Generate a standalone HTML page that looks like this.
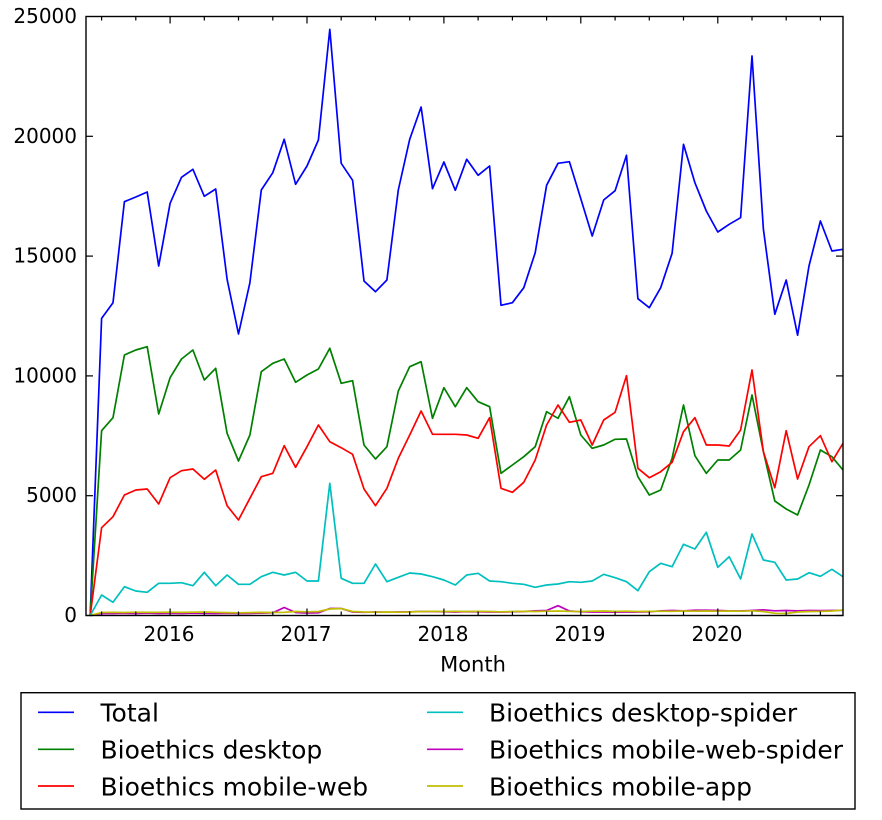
<!DOCTYPE html>
<html>
<head>
<meta charset="utf-8">
<style>
html,body{margin:0;padding:0;background:#fff;}
svg{display:block;}
text{font-family:"DejaVu Sans","Liberation Sans",sans-serif;fill:#000;}
</style>
</head>
<body>
<svg width="882" height="820" viewBox="0 0 882 820" xmlns="http://www.w3.org/2000/svg">
<rect x="0" y="0" width="882" height="820" fill="#fff"/>
<g fill="none" stroke-width="1.7" stroke-linejoin="round">
<!-- Total -->
<polyline stroke="#0000ff" points="90.2,615.5 101.6,318.4 113,302.7 124.4,201.7 135.8,197 147.2,192 158.7,266 170.1,203.3 181.5,177.3 192.9,169.3 204.3,196.3 215.7,189 227.1,279.3 238.5,334 249.9,282.7 261.3,190 272.8,172.7 284.2,139.3 295.6,184.3 307,166 318.4,140 329.8,29.3 341.2,163.3 352.6,180.3 364,281 375.5,291.7 386.9,280 398.3,190 409.7,139.3 421.1,107 432.5,188.7 443.9,162 455.3,190.3 466.7,159.3 478.1,175.3 489.6,166 501,305.3 512.4,302.7 523.8,287.7 535.2,252.7 546.6,185.3 558,163.3 569.4,161.7 580.8,198.7 592.2,236 603.7,200 615.1,190.7 626.5,155.3 637.9,298.7 649.3,307.7 660.7,287.7 672.1,253.3 683.5,144.3 694.9,182.7 706.3,211 717.8,232 729.2,224.3 740.6,217.7 752,56 763.4,229.3 774.8,314.3 786.2,280 797.6,335.2 809,266 820.4,221 831.9,251 843,249.3"/>
<!-- desktop -->
<polyline stroke="#008000" points="90.2,615.5 101.6,430.7 113,417.7 124.4,355 135.8,350 147.2,346.7 158.7,414 170.1,377.7 181.5,359 192.9,350 204.3,380 215.7,368.3 227.1,433.3 238.5,461 249.9,435 261.3,371.7 272.8,363.3 284.2,359 295.6,382.3 307,375 318.4,369 329.8,348.3 341.2,383.3 352.6,380.7 364,445 375.5,459 386.9,446.7 398.3,391 409.7,366.7 421.1,361.7 432.5,418.3 443.9,387.7 455.3,406.7 466.7,387.7 478.1,401.7 489.6,406.7 501,473.3 512.4,465 523.8,456.7 535.2,446.7 546.6,411.7 558,418.3 569.4,396.7 580.8,435 592.2,448.3 603.7,445 615.1,439.3 626.5,439 637.9,476.7 649.3,495 660.7,490 672.1,458.3 683.5,405 694.9,455.7 706.3,473.3 717.8,460 729.2,460 740.6,450 752,395 763.4,451.7 774.8,501 786.2,509 797.6,515 809,485 820.4,450 831.9,456.7 843,470"/>
<!-- mobile-web -->
<polyline stroke="#ff0000" points="90.2,615.5 101.6,527.7 113,516.7 124.4,495 135.8,490 147.2,489 158.7,504 170.1,477.7 181.5,470.7 192.9,469 204.3,479.3 215.7,470 227.1,505.7 238.5,520 249.9,498.3 261.3,476.7 272.8,473.3 284.2,445.7 295.6,467.3 307,446.7 318.4,425 329.8,441.7 341.2,447.7 352.6,454.3 364,489 375.5,505.7 386.9,488.3 398.3,458.3 409.7,435 421.1,411 432.5,434.3 443.9,434.3 455.3,434.3 466.7,435 478.1,438.3 489.6,417.7 501,488.3 512.4,492.3 523.8,482.3 535.2,460 546.6,425 558,405 569.4,422.3 580.8,420 592.2,445 603.7,420 615.1,412.3 626.5,375.7 637.9,468.3 649.3,477.7 660.7,471.7 672.1,462.3 683.5,431.7 694.9,417.7 706.3,445 717.8,445 729.2,446 740.6,430 752,370 763.4,451.7 774.8,487.7 786.2,430.7 797.6,479 809,446.7 820.4,435.7 831.9,461.7 843,443.3"/>
<!-- desktop-spider -->
<polyline stroke="#00bfbf" points="90.2,615.5 101.6,595 113,602.3 124.4,586.7 135.8,591 147.2,592.3 158.7,583.3 170.1,583.3 181.5,582.7 192.9,585.7 204.3,572.3 215.7,585.7 227.1,575 238.5,584.3 249.9,584.3 261.3,576.7 272.8,572.3 284.2,575 295.6,572.3 307,581 318.4,581 329.8,483.3 341.2,578.3 352.6,583.3 364,583.3 375.5,564 386.9,581.7 398.3,577.3 409.7,573 421.1,574 432.5,576.7 443.9,580 455.3,585 466.7,575 478.1,573.3 489.6,581 501,581.7 512.4,583.3 523.8,584.3 535.2,587.3 546.6,585 558,584 569.4,581.7 580.8,582.3 592.2,581 603.7,574.3 615.1,577.7 626.5,581.7 637.9,590.7 649.3,571.7 660.7,563.3 672.1,566.7 683.5,544.3 694.9,549 706.3,532.3 717.8,567.3 729.2,556.7 740.6,579 752,534 763.4,560 774.8,562.3 786.2,580 797.6,579 809,572.7 820.4,576.3 831.9,569.3 843,576.7"/>
<!-- mobile-web-spider -->
<polyline stroke="#bf00bf" points="90.2,615.5 101.6,613.5 113,613.5 124.4,613.3 135.8,613.5 147.2,613.2 158.7,613.5 170.1,613.3 181.5,613.5 192.9,613.2 204.3,613.4 215.7,613.5 227.1,613.3 238.5,613.5 249.9,613.4 261.3,613.2 272.8,612.8 284.2,607.5 295.6,612.5 307,613 318.4,612.8 329.8,608.5 341.2,608.5 352.6,612 364,612.3 375.5,612 386.9,612.2 398.3,612 409.7,611.8 421.1,611.5 432.5,611.5 443.9,611.8 455.3,612 466.7,611.6 478.1,611.8 489.6,612 501,612 512.4,611.8 523.8,611.5 535.2,610.8 546.6,610.5 558,605.7 569.4,611 580.8,611.8 592.2,612 603.7,612 615.1,612.2 626.5,612 637.9,612 649.3,611.8 660.7,610.8 672.1,610.5 683.5,610.8 694.9,610.2 706.3,610.2 717.8,610.5 729.2,610.8 740.6,611 752,610.5 763.4,609.8 774.8,610.8 786.2,610.5 797.6,610.8 809,610.5 820.4,610.6 831.9,610.5 843,610.3"/>
<!-- mobile-app -->
<polyline stroke="#bfbf00" points="90.2,615.5 101.6,612.5 113,612.3 124.4,612.5 135.8,612.2 147.2,612.4 158.7,612.3 170.1,612.2 181.5,612.4 192.9,612.2 204.3,612 215.7,612.3 227.1,612.6 238.5,612.8 249.9,612.6 261.3,612.4 272.8,612.5 284.2,612.3 295.6,611.5 307,611.8 318.4,611.5 329.8,609 341.2,608.5 352.6,611.5 364,612 375.5,612.2 386.9,612 398.3,612.2 409.7,612 421.1,611.5 432.5,611.3 443.9,611.5 455.3,611.4 466.7,611.5 478.1,611.3 489.6,611.5 501,611.8 512.4,611.5 523.8,611.3 535.2,611.5 546.6,611.2 558,611 569.4,611.4 580.8,611.5 592.2,611.2 603.7,611 615.1,611.4 626.5,611.2 637.9,611.5 649.3,611.4 660.7,611.2 672.1,611.3 683.5,611 694.9,611.2 706.3,611 717.8,611.2 729.2,611 740.6,611.2 752,610.8 763.4,611.5 774.8,613.3 786.2,613.5 797.6,612 809,611.5 820.4,611.4 831.9,611 843,610"/>
</g>
<!-- axes frame -->
<rect x="86" y="16.5" width="757" height="599" fill="none" stroke="#000" stroke-width="1.4"/>
<g stroke="#000" stroke-width="1.2">
<!-- y major ticks left & right -->
<line x1="86" y1="615.5" x2="93" y2="615.5"/><line x1="843" y1="615.5" x2="836" y2="615.5"/>
<line x1="86" y1="495.7" x2="93" y2="495.7"/><line x1="843" y1="495.7" x2="836" y2="495.7"/>
<line x1="86" y1="375.9" x2="93" y2="375.9"/><line x1="843" y1="375.9" x2="836" y2="375.9"/>
<line x1="86" y1="256.1" x2="93" y2="256.1"/><line x1="843" y1="256.1" x2="836" y2="256.1"/>
<line x1="86" y1="136.3" x2="93" y2="136.3"/><line x1="843" y1="136.3" x2="836" y2="136.3"/>
<!-- x major ticks bottom & top -->
<line x1="170.1" y1="615.5" x2="170.1" y2="608.5"/><line x1="170.1" y1="16.5" x2="170.1" y2="23.5"/>
<line x1="307" y1="615.5" x2="307" y2="608.5"/><line x1="307" y1="16.5" x2="307" y2="23.5"/>
<line x1="443.9" y1="615.5" x2="443.9" y2="608.5"/><line x1="443.9" y1="16.5" x2="443.9" y2="23.5"/>
<line x1="580.8" y1="615.5" x2="580.8" y2="608.5"/><line x1="580.8" y1="16.5" x2="580.8" y2="23.5"/>
<line x1="717.8" y1="615.5" x2="717.8" y2="608.5"/><line x1="717.8" y1="16.5" x2="717.8" y2="23.5"/>
<!-- x minor ticks -->
<g>
<line x1="101.6" y1="615.5" x2="101.6" y2="611.5"/><line x1="101.6" y1="16.5" x2="101.6" y2="20.5"/>
<line x1="135.8" y1="615.5" x2="135.8" y2="611.5"/><line x1="135.8" y1="16.5" x2="135.8" y2="20.5"/>
<line x1="204.3" y1="615.5" x2="204.3" y2="611.5"/><line x1="204.3" y1="16.5" x2="204.3" y2="20.5"/>
<line x1="238.5" y1="615.5" x2="238.5" y2="611.5"/><line x1="238.5" y1="16.5" x2="238.5" y2="20.5"/>
<line x1="272.8" y1="615.5" x2="272.8" y2="611.5"/><line x1="272.8" y1="16.5" x2="272.8" y2="20.5"/>
<line x1="341.2" y1="615.5" x2="341.2" y2="611.5"/><line x1="341.2" y1="16.5" x2="341.2" y2="20.5"/>
<line x1="375.5" y1="615.5" x2="375.5" y2="611.5"/><line x1="375.5" y1="16.5" x2="375.5" y2="20.5"/>
<line x1="409.7" y1="615.5" x2="409.7" y2="611.5"/><line x1="409.7" y1="16.5" x2="409.7" y2="20.5"/>
<line x1="478.1" y1="615.5" x2="478.1" y2="611.5"/><line x1="478.1" y1="16.5" x2="478.1" y2="20.5"/>
<line x1="512.4" y1="615.5" x2="512.4" y2="611.5"/><line x1="512.4" y1="16.5" x2="512.4" y2="20.5"/>
<line x1="546.6" y1="615.5" x2="546.6" y2="611.5"/><line x1="546.6" y1="16.5" x2="546.6" y2="20.5"/>
<line x1="615.1" y1="615.5" x2="615.1" y2="611.5"/><line x1="615.1" y1="16.5" x2="615.1" y2="20.5"/>
<line x1="649.3" y1="615.5" x2="649.3" y2="611.5"/><line x1="649.3" y1="16.5" x2="649.3" y2="20.5"/>
<line x1="683.5" y1="615.5" x2="683.5" y2="611.5"/><line x1="683.5" y1="16.5" x2="683.5" y2="20.5"/>
<line x1="752" y1="615.5" x2="752" y2="611.5"/><line x1="752" y1="16.5" x2="752" y2="20.5"/>
<line x1="786.2" y1="615.5" x2="786.2" y2="611.5"/><line x1="786.2" y1="16.5" x2="786.2" y2="20.5"/>
<line x1="820.4" y1="615.5" x2="820.4" y2="611.5"/><line x1="820.4" y1="16.5" x2="820.4" y2="20.5"/>
</g>
</g>
<!-- y tick labels -->
<g font-size="20" text-anchor="end">
<text x="77" y="622">0</text>
<text x="77" y="502.2">5000</text>
<text x="77" y="382.4">10000</text>
<text x="77" y="262.6">15000</text>
<text x="77" y="142.8">20000</text>
<text x="77" y="23">25000</text>
</g>
<!-- x tick labels -->
<g font-size="20" text-anchor="middle">
<text x="169" y="641">2016</text>
<text x="306" y="641">2017</text>
<text x="443" y="641">2018</text>
<text x="580" y="641">2019</text>
<text x="717" y="641">2020</text>
</g>
<text x="473" y="671.5" font-size="21" text-anchor="middle">Month</text>
<!-- legend -->
<rect x="21" y="692.7" width="834" height="116.3" fill="#fff" stroke="#000" stroke-width="1.4"/>
<g stroke-width="1.7">
<line x1="38" y1="712.3" x2="74" y2="712.3" stroke="#0000ff"/>
<line x1="38" y1="749.3" x2="74" y2="749.3" stroke="#008000"/>
<line x1="38" y1="786" x2="74" y2="786" stroke="#ff0000"/>
<line x1="427" y1="712.3" x2="463" y2="712.3" stroke="#00bfbf"/>
<line x1="427" y1="749.3" x2="463" y2="749.3" stroke="#bf00bf"/>
<line x1="427" y1="786" x2="463" y2="786" stroke="#bfbf00"/>
</g>
<g font-size="25">
<text x="100.5" y="721.7">Total</text>
<text x="100.5" y="758.7">Bioethics desktop</text>
<text x="100.5" y="795.4">Bioethics mobile-web</text>
<text x="489" y="721.7">Bioethics desktop-spider</text>
<text x="489" y="758.7">Bioethics mobile-web-spider</text>
<text x="489" y="795.4">Bioethics mobile-app</text>
</g>
</svg>
</body>
</html>
